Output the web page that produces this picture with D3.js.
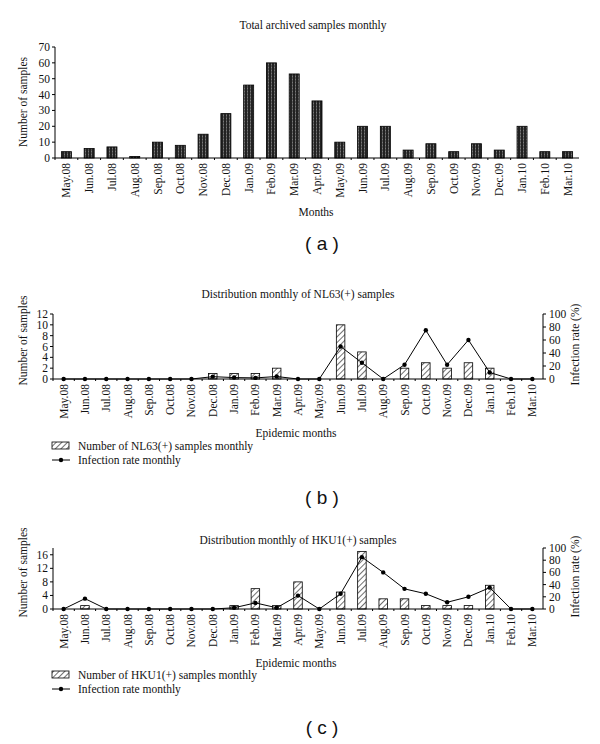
<!DOCTYPE html>
<html><head><meta charset="utf-8">
<script src="https://cdn.jsdelivr.net/npm/d3@7"></script>
<style>body{margin:0;background:#fff}svg{display:block}</style>
</head><body>
<script>
const months = ["May.08","Jun.08","Jul.08","Aug.08","Sep.08","Oct.08","Nov.08","Dec.08","Jan.09","Feb.09","Mar.09","Apr.09","May.09","Jun.09","Jul.09","Aug.09","Sep.09","Oct.09","Nov.09","Dec.09","Jan.10","Feb.10","Mar.10"];
const totalSamples = [4,6,7,1,10,8,15,28,46,60,53,36,10,20,20,5,9,4,9,5,20,4,4];
const nl63Counts = [0,0,0,0,0,0,0,1,1,1,2,0,0,10,5,0,2,3,2,3,2,0,0];
const nl63Rate = [0,0,0,0,0,0,0,3.6,2.2,1.7,3.8,0,0,50,25,0,22,75,22,60,10,0,0];
const hku1Counts = [0,1,0,0,0,0,0,0,1,6,1,8,0,5,17,3,3,1,1,1,7,0,0];
const hku1Rate = [0,17,0,0,0,0,0,0,2,10,2,22,0,25,85,60,33,25,11,20,35,0,0];
const totalTicks = [0,10,20,30,40,50,60,70];
const nl63Ticks = [0,2,4,6,8,10,12];
const hku1Ticks = [0,4,8,12,16];
const rateTicks = [0,20,40,60,80,100];

const W = 600, H = 744;
const serif = "'Liberation Serif','DejaVu Serif',serif";
const svg = d3.select("body").append("svg").attr("width", W).attr("height", H);
const defs = svg.append("defs");
const dots = defs.append("pattern").attr("id","dots").attr("patternUnits","userSpaceOnUse").attr("width",3).attr("height",3);
dots.append("rect").attr("width",3).attr("height",3).attr("fill","#222");
dots.append("rect").attr("x",1).attr("y",0).attr("width",1).attr("height",3).attr("fill","#555");
dots.append("rect").attr("x",1).attr("y",1).attr("width",1).attr("height",1).attr("fill","#7a7a7a");
const hatch = defs.append("pattern").attr("id","hatch").attr("patternUnits","userSpaceOnUse").attr("width",4).attr("height",4).attr("patternTransform","rotate(45)");
hatch.append("rect").attr("width",4).attr("height",4).attr("fill","#fff");
hatch.append("line").attr("x1",0).attr("y1",0).attr("x2",0).attr("y2",4).attr("stroke","#222").attr("stroke-width",1.3);

function text(g, x, y, s, opts = {}) {
  const t = g.append("text").attr("x", x).attr("y", y).text(s)
    .attr("font-family", opts.family || serif).attr("font-size", opts.size || 11)
    .attr("fill", "#111").attr("text-anchor", opts.anchor || "middle");
  if (opts.rotate) t.attr("transform", `rotate(${opts.rotate},${x},${y})`);
  return t;
}

function xAxis(g, x, y0) {
  g.append("line").attr("x1", x.range()[0]).attr("x2", x.range()[1]).attr("y1", y0).attr("y2", y0).attr("stroke","#000").attr("stroke-width",1);
  months.forEach((m, i) => {
    const bx = x(m);
    g.append("line").attr("x1", bx).attr("x2", bx).attr("y1", y0).attr("y2", y0 + 2).attr("stroke","#000");
    const cx = bx + x.bandwidth() / 2;
    text(g, cx + 4, y0 + 5, m, {anchor: "end", rotate: -90, size: 11.5});
  });
}

function leftAxis(g, y, ticks, x0) {
  g.append("line").attr("x1", x0).attr("x2", x0).attr("y1", y.range()[0]).attr("y2", y.range()[1]).attr("stroke","#000");
  ticks.forEach(t => {
    g.append("line").attr("x1", x0 - 3).attr("x2", x0).attr("y1", y(t)).attr("y2", y(t)).attr("stroke","#000");
    text(g, x0 - 5, y(t) + 4, String(t), {anchor: "end", size: 11.5});
  });
}
function rightAxis(g, y, ticks, x0) {
  g.append("line").attr("x1", x0).attr("x2", x0).attr("y1", y.range()[0]).attr("y2", y.range()[1]).attr("stroke","#000");
  ticks.forEach(t => {
    g.append("line").attr("x1", x0).attr("x2", x0 + 3).attr("y1", y(t)).attr("y2", y(t)).attr("stroke","#000");
    text(g, x0 + 6, y(t) + 4, String(t), {anchor: "start", size: 11.5});
  });
}

// Panel (a)
{
  const g = svg.append("g");
  const x = d3.scaleBand().domain(months).range([55, 579]);
  const y = d3.scaleLinear().domain([0, 70]).range([158, 47]);
  text(g, 313, 29, "Total archived samples monthly", {size: 11.5});
  const bw = x.bandwidth() * 0.44;
  g.selectAll(".bar").data(months).enter().append("rect")
    .attr("x", (m) => x(m) + (x.bandwidth() - bw) / 2)
    .attr("y", (m, i) => y(totalSamples[i]))
    .attr("width", bw)
    .attr("height", (m, i) => y(0) - y(totalSamples[i]))
    .attr("fill", "url(#dots)").attr("stroke", "#000").attr("stroke-width", 0.8);
  xAxis(g, x, 158);
  leftAxis(g, y, totalTicks, 55);
  text(g, 27, 102, "Number of samples", {rotate: -90, size: 11.5});
  text(g, 316, 216, "Months", {size: 11.5});
  text(g, 322, 250, "( a )", {family: "'Liberation Sans','DejaVu Sans',sans-serif", size: 19});
}

function panel(cfg) {
  const g = svg.append("g");
  const x = d3.scaleBand().domain(months).range([53, 543]);
  const y = d3.scaleLinear().domain([0, cfg.ymax]).range([cfg.y0, cfg.ytop]);
  const yr = d3.scaleLinear().domain([0, 100]).range([cfg.y0, cfg.ytop]);
  text(g, 298, cfg.titleY, cfg.title, {size: 11.5});
  const bw = x.bandwidth() * 0.4;
  g.selectAll(".bar").data(months.filter((m, i) => cfg.counts[i] > 0)).enter().append("rect")
    .attr("x", (m) => x(m) + (x.bandwidth() - bw) / 2)
    .attr("y", (m) => y(cfg.counts[months.indexOf(m)]))
    .attr("width", bw)
    .attr("height", (m) => y(0) - y(cfg.counts[months.indexOf(m)]))
    .attr("fill", "url(#hatch)").attr("stroke", "#000").attr("stroke-width", 0.8);
  xAxis(g, x, cfg.y0);
  leftAxis(g, y, cfg.ticks, 53);
  rightAxis(g, yr, rateTicks, 543);
  const line = d3.line().x((d, i) => x(months[i]) + x.bandwidth() / 2).y(d => yr(d));
  g.append("path").datum(cfg.rate).attr("d", line).attr("fill", "none").attr("stroke", "#000").attr("stroke-width", 1);
  g.selectAll(".pt").data(cfg.rate).enter().append("circle")
    .attr("cx", (d, i) => x(months[i]) + x.bandwidth() / 2).attr("cy", d => yr(d)).attr("r", 2.2).attr("fill", "#000");
  text(g, 27, (cfg.y0 + cfg.ytop) / 2 - 6, "Number of samples", {rotate: -90, size: 11.5});
  text(g, 579, (cfg.y0 + cfg.ytop) / 2 - 2, "Infection rate (%)", {rotate: -90, size: 11.5});
  text(g, 296, cfg.xlabY, "Epidemic months", {size: 11.5});
  const ly = cfg.legY;
  g.append("rect").attr("x", 52).attr("y", ly - 4).attr("width", 17).attr("height", 7).attr("fill", "url(#hatch)").attr("stroke", "#000").attr("stroke-width", 0.8);
  text(g, 78, ly + 4, cfg.legend, {anchor: "start", size: 11.5});
  g.append("line").attr("x1", 52).attr("x2", 70).attr("y1", ly + 14).attr("y2", ly + 14).attr("stroke", "#000");
  g.append("circle").attr("cx", 61).attr("cy", ly + 14).attr("r", 2.2).attr("fill", "#000");
  text(g, 78, ly + 18, "Infection rate monthly", {anchor: "start", size: 11.5});
  text(g, 322, cfg.tagY, cfg.tag, {family: "'Liberation Sans','DejaVu Sans',sans-serif", size: 19});
}

panel({title: "Distribution monthly of NL63(+) samples", titleY: 298, counts: nl63Counts, rate: nl63Rate,
  ymax: 12, ticks: nl63Ticks, y0: 379, ytop: 314, xlabY: 437, legY: 446,
  legend: "Number of NL63(+) samples monthly", tag: "( b )", tagY: 504});
panel({title: "Distribution monthly of HKU1(+) samples", titleY: 544, counts: hku1Counts, rate: hku1Rate,
  ymax: 18, ticks: hku1Ticks, y0: 609, ytop: 548, xlabY: 667, legY: 675,
  legend: "Number of HKU1(+) samples monthly", tag: "( c )", tagY: 734});
</script>
</body></html>
